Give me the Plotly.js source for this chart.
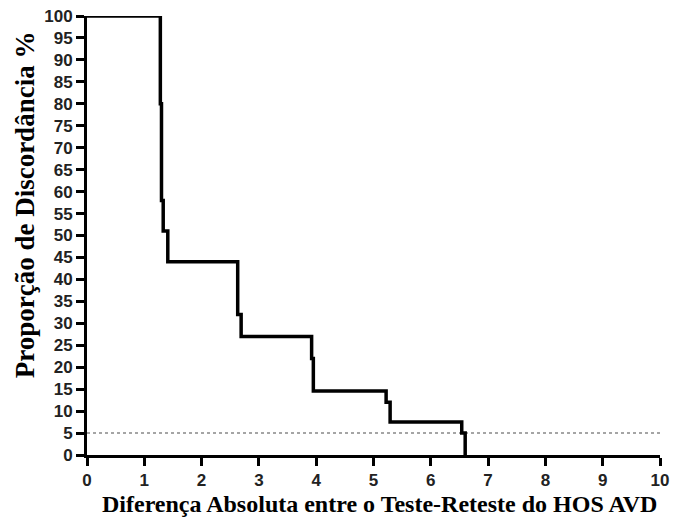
<!DOCTYPE html>
<html><head><meta charset="utf-8">
<script src="https://cdn.plot.ly/plotly-3.0.1.min.js"></script>
<style>html,body{margin:0;padding:0;background:#fff}#chart{width:675px;height:519px}</style>
</head><body><div id="chart"></div>
<script>
const stepX = [0, 1.28, 1.30, 1.33, 1.41, 2.63, 2.69, 3.92, 3.95, 5.22, 5.29, 6.54, 6.60];
const stepY = [100, 80, 58, 51, 44, 32, 27, 22, 14.6, 12, 7.5, 5, 0];
const refX = [0, 10];
const refY = [5, 5];
const yTicks = [0,5,10,15,20,25,30,35,40,45,50,55,60,65,70,75,80,85,90,95,100];
const xTicks = [0,1,2,3,4,5,6,7,8,9,10];
const xTitle = 'Diferença Absoluta entre o Teste-Reteste do HOS AVD';
const yTitle = 'Proporção de Discordância %';

const traces = [
  {x: refX, y: refY, mode: 'lines', line: {color: '#888', width: 1.5, dash: 'dot'}, hoverinfo: 'skip'},
  {x: stepX, y: stepY, mode: 'lines', line: {color: '#000', width: 3.5, shape: 'hv'}}
];
const tickFont = {family: 'Liberation Sans, Arial, sans-serif', size: 17, color: '#222'};
const axisStyle = {showgrid: false, zeroline: false, showline: true, linecolor: '#000', linewidth: 3,
  ticks: 'outside', ticklen: 8, tickwidth: 3, tickcolor: '#000', tickfont: tickFont};
const bold = v => '<b>' + v + '</b>';
const serif = 'Liberation Serif, Times New Roman, serif';
const layout = {
  width: 675, height: 519,
  margin: {l: 87, r: 15, t: 16, b: 64},
  showlegend: false,
  paper_bgcolor: '#fff', plot_bgcolor: '#fff',
  xaxis: Object.assign({range: [0, 10], tickvals: xTicks, ticktext: xTicks.map(bold)}, axisStyle),
  yaxis: Object.assign({range: [0, 100], tickvals: yTicks, ticktext: yTicks.map(bold)}, axisStyle),
  annotations: [
    {text: bold(xTitle), xref: 'paper', yref: 'paper', x: 0.511, y: -0.1116, xanchor: 'center', yanchor: 'middle',
      showarrow: false, font: {family: serif, size: 24, color: '#000'}},
    {text: bold(yTitle), xref: 'paper', yref: 'paper', x: -0.108, y: 0.569, xanchor: 'center', yanchor: 'middle',
      textangle: -90, showarrow: false, font: {family: serif, size: 27, color: '#000'}}
  ]
};
Plotly.newPlot('chart', traces, layout, {displayModeBar: false, staticPlot: true});
</script></body></html>
